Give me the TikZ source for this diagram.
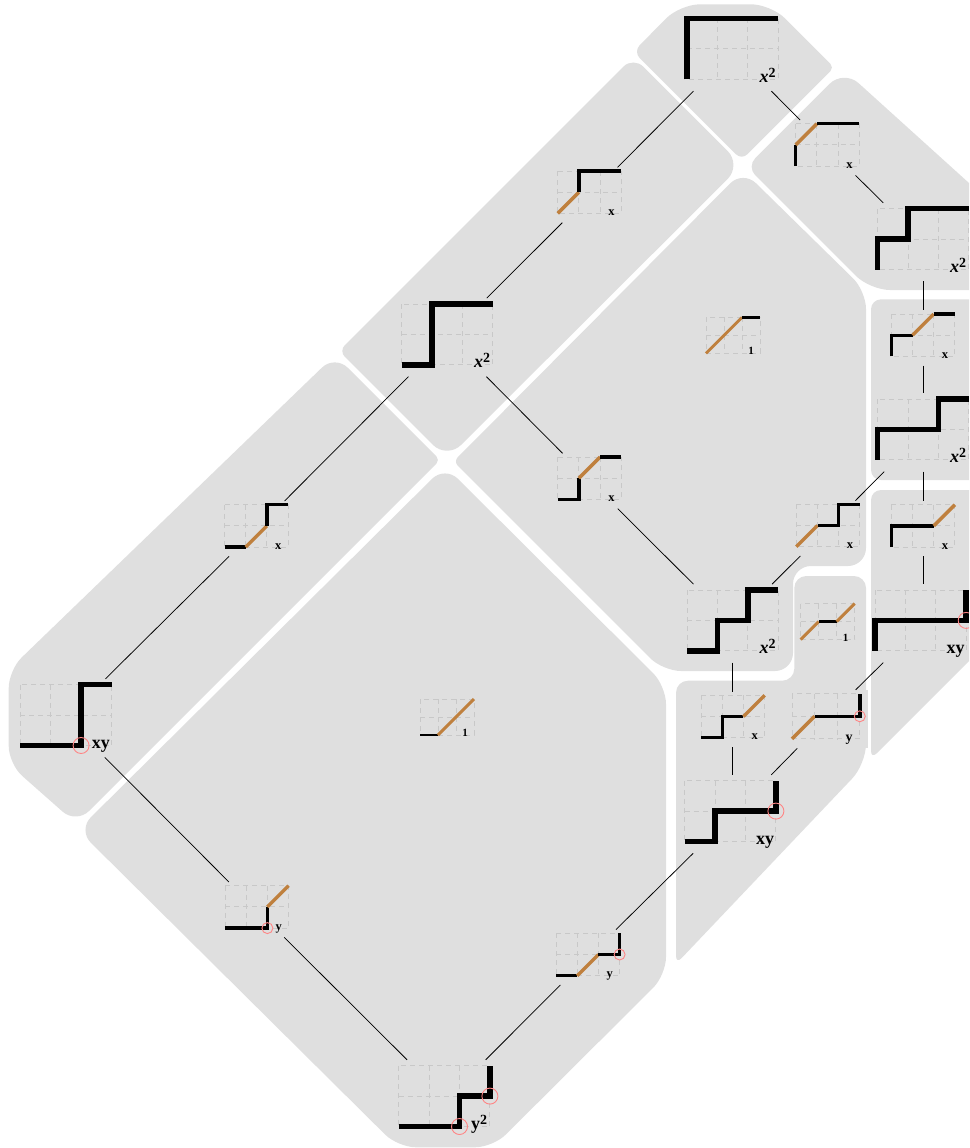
\documentclass[tikz,border=0pt]{standalone}
\usepackage{fontspec}
\setmainfont{Liberation Serif}
\definecolor{regionfill}{HTML}{DFDFDF}
\definecolor{gridgray}{HTML}{C8C8C8}
\definecolor{pathorange}{HTML}{BF803E}
\definecolor{markred}{HTML}{FF8585}
\tikzset{
  region/.style={fill=regionfill,draw=none},
  hit/.style={rectangle,inner sep=0pt,outer sep=0pt,draw=none},
  edgeline/.style={draw=black,line width=0.75pt},
  lat/.style={draw=gridgray,line width=0.9pt,dash pattern=on 5pt off 4pt},
  blk/.style={draw=black,line width=\lw,line join=miter,line cap=butt},
  org/.style={draw=pathorange,line width=\lw,line cap=butt},
  redmark/.style={draw=markred,line width=0.9pt},
  lbl/.style={anchor=base,inner sep=0pt,outer sep=0pt,text=black},
}
\newcommand\bigkind{\def\cell{30.4}\def\lw{5.5pt}\def\off{3}\def\boxh{78.5}\def\lblx{80.5}\def\lbly{2.7}\def\rr{8pt}\def\lblfont{\fontsize{18}{20}\selectfont\bfseries}}
\newcommand\smallkind{\def\cell{21.2}\def\lw{3.4pt}\def\off{2.8}\def\boxh{55.4}\def\lblx{53.8}\def\lbly{2.2}\def\rr{5.5pt}\def\lblfont{\fontsize{12.5}{14}\selectfont\bfseries}}
\newcommand\midkind{\def\cell{22.6}\def\lw{3.6pt}\def\off{2.8}\def\boxh{58.6}\def\lblx{57}\def\lbly{2.7}\def\rr{5.5pt}\def\lblfont{\fontsize{14}{16}\selectfont\bfseries}}
\newcommand\tinykind{\def\cell{18}\def\lw{2.9pt}\def\off{2.4}\def\boxh{47}\def\lblx{45}\def\lbly{1.6}\def\rr{5pt}\def\lblfont{\fontsize{11}{12}\selectfont\bfseries}}
% name, left, top, box centre x, kind, label, drawing
\newcommand\dia[7]{%
  #5%
  \pgfmathsetmacro\bcy{#3+\cell+\off}%
  \pgfmathsetmacro\bw{3*\cell}%
  \pgfmathsetmacro\lx{#2+\lblx}%
  \pgfmathsetmacro\ly{#3+2*\cell+\lbly}%
  \node[hit,minimum width=\bw pt,minimum height=\boxh pt] (#1) at (#4,\bcy) {};
  \begin{scope}[shift={(#2,#3)},x=\cell pt,y=-\cell pt]
    \draw[lat] (0,0) rectangle (3,2) (1,0) -- (1,2) (2,0) -- (2,2) (0,1) -- (3,1);
    #7
  \end{scope}
  \node[lbl] (#1-label) at (\lx,\ly) {\lblfont #6};
}
\newcommand\rc[1]{\draw[redmark] #1 circle[radius=\rr];}
\newcommand\supr[1]{\raisebox{5pt}{\fontsize{14}{14}\selectfont #1}}
\newcommand\xsq{\textit{x}\supr{2}}
\begin{document}
\begin{tikzpicture}[x=1pt,y=-1pt]
\useasboundingbox (0,0) rectangle (969,1148);
\clip (0,0) rectangle (969,1148);
% regions
\fill[region,rounded corners=20pt] (633.3,51.7) -- (680,4.3) -- (771,4.3) [rounded corners=5pt] -- (834,67.5) [rounded corners=8pt] -- (741.7,160) [rounded corners=9pt] -- cycle;
\fill[region,rounded corners=20pt] (746.7,166.7) -- (843.7,69.7) -- (990,202) -- (990,290) -- (870,290) [rounded corners=12pt] -- cycle;
\fill[region,rounded corners=14pt] (339,351) -- (633.3,56.7) [rounded corners=20pt] -- (741.7,165) -- (447,459) [rounded corners=8pt] -- cycle;
\fill[region,rounded corners=18pt] (453.5,461.5) -- (743,170.5) -- (866,291) -- (866,566) -- (793,566) -- (793,671) -- (663,671) [rounded corners=6pt] -- cycle;
\fill[region,rounded corners=10pt] (871,299.3) rectangle (990,480);
\fill[region,rounded corners=10pt] (871,490) -- (990,490) -- (990,640) [rounded corners=8pt] -- (871,759) [rounded corners=10pt] -- cycle;
\fill[region,rounded corners=12pt] (676,680.7) -- (794.3,680.7) -- (794.3,576) -- (866,576) [rounded corners=20pt] -- (866,764) [rounded corners=8pt] -- (676,964) [rounded corners=12pt] -- cycle;
\fill[region] (790,690) rectangle (868.3,748.3);
\fill[region,rounded corners=18pt] (8.7,670) -- (335,355) [rounded corners=5pt] -- (440,460) [rounded corners=18pt] -- (76.3,823.7) -- (8.7,764) -- cycle;
\fill[region,rounded corners=18pt] (78,830) -- (445,466) -- (666,686) -- (666,975) -- (493,1147.3) -- (398,1147.3) -- cycle;
% lattice diagrams
\dia{A}{687}{18.5}{732.5}{\bigkind}{\xsq}{\draw[blk] (0,2) -- (0,0) -- (3,0);}
\dia{B}{877.7}{208.7}{923}{\bigkind}{\xsq}{\draw[blk] (0,2) -- (0,1) -- (1,1) -- (1,0) -- (3,0);}
\dia{C}{877.7}{399}{923}{\bigkind}{\xsq}{\draw[blk] (0,2) -- (0,1) -- (2,1) -- (2,0) -- (3,0);}
\dia{D}{875}{590}{923}{\bigkind}{xy}{\draw[blk] (0,2) -- (0,1) -- (3,1) -- (3,0); \rc{(3,1)}}
\dia{E}{687}{590}{732.8}{\bigkind}{\xsq}{\draw[blk] (0,2) -- (1,2) -- (1,1) -- (2,1) -- (2,0) -- (3,0);}
\dia{F}{684.7}{780.7}{732.8}{\bigkind}{xy}{\draw[blk] (0,2) -- (1,2) -- (1,1) -- (3,1) -- (3,0); \rc{(3,1)}}
\dia{G}{398.7}{1065.7}{446.5}{\bigkind}{y\supr{2}}{\draw[blk] (0,2) -- (2,2) -- (2,1) -- (3,1) -- (3,0); \rc{(2,2)} \rc{(3,1)}}
\dia{H}{20.3}{684.7}{65.8}{\bigkind}{xy}{\draw[blk] (0,2) -- (2,2) -- (2,0) -- (3,0); \rc{(2,2)}}
\dia{I}{401.7}{304}{447.5}{\bigkind}{\xsq}{\draw[blk] (0,2) -- (1,2) -- (1,0) -- (3,0);}
\dia{sa}{795.7}{123.7}{827.5}{\smallkind}{x}{\draw[blk] (0,2) -- (0,1); \draw[org] (0,1) -- (1,0); \draw[blk] (1,0) -- (3,0);}
\dia{sb}{557.7}{171}{590}{\smallkind}{x}{\draw[org] (0,2) -- (1,1); \draw[blk] (1,1) -- (1,0) -- (3,0);}
\dia{sc}{557.7}{457}{590}{\smallkind}{x}{\draw[blk] (0,2) -- (1,2) -- (1,1); \draw[org] (1,1) -- (2,0); \draw[blk] (2,0) -- (3,0);}
\dia{sd}{224.5}{504.7}{257}{\smallkind}{x}{\draw[blk] (0,2) -- (1,2); \draw[org] (1,2) -- (2,1); \draw[blk] (2,1) -- (2,0) -- (3,0);}
\dia{se}{225}{885.7}{256.5}{\smallkind}{y}{\draw[blk] (0,2) -- (2,2) -- (2,1); \draw[org] (2,1) -- (3,0); \rc{(2,2)}}
\dia{sf}{556}{933.3}{588}{\smallkind}{y}{\draw[blk] (0,2) -- (1,2); \draw[org] (1,2) -- (2,1); \draw[blk] (2,1) -- (3,1) -- (3,0); \rc{(3,1)}}
\dia{sg}{891.3}{314}{923}{\smallkind}{x}{\draw[blk] (0,2) -- (0,1) -- (1,1); \draw[org] (1,1) -- (2,0); \draw[blk] (2,0) -- (3,0);}
\dia{sh}{891.3}{504.7}{923}{\smallkind}{x}{\draw[blk] (0,2) -- (0,1) -- (2,1); \draw[org] (2,1) -- (3,0);}
\dia{si}{796.3}{504.3}{828}{\smallkind}{x}{\draw[org] (0,2) -- (1,1); \draw[blk] (1,1) -- (2,1) -- (2,0) -- (3,0);}
\dia{sj}{701}{695.3}{732.8}{\smallkind}{x}{\draw[blk] (0,2) -- (1,2) -- (1,1) -- (2,1); \draw[org] (2,1) -- (3,0);}
\dia{sk}{792}{693.7}{826}{\midkind}{y}{\draw[org] (0,2) -- (1,1); \draw[blk] (1,1) -- (3,1) -- (3,0); \rc{(3,1)}}
\dia{ta}{706}{317.3}{733}{\tinykind}{1}{\draw[org] (0,2) -- (2,0); \draw[blk] (2,0) -- (3,0);}
\dia{tb}{420}{699}{447}{\tinykind}{1}{\draw[blk] (0,2) -- (1,2); \draw[org] (1,2) -- (3,0);}
\dia{tc}{800.7}{603.5}{828}{\tinykind}{1}{\draw[org] (0,2) -- (1,1); \draw[blk] (1,1) -- (2,1); \draw[org] (2,1) -- (3,0);}
% connectors
\draw[edgeline] (A) -- (sb);
\draw[edgeline] (A) -- (sa);
\draw[edgeline] (sa) -- (B);
\draw[edgeline] (B) -- (sg);
\draw[edgeline] (sg) -- (C);
\draw[edgeline] (C) -- (sh);
\draw[edgeline] (C) -- (si);
\draw[edgeline] (sh) -- (D);
\draw[edgeline] (si) -- (E);
\draw[edgeline] (sc) -- (E);
\draw[edgeline] (I) -- (sc);
\draw[edgeline] (sb) -- (I);
\draw[edgeline] (I) -- (sd);
\draw[edgeline] (sd) -- (H);
\draw[edgeline] (H) -- (se);
\draw[edgeline] (se) -- (G);
\draw[edgeline] (sf) -- (G);
\draw[edgeline] (F) -- (sf);
\draw[edgeline] (E) -- (sj);
\draw[edgeline] (sj) -- (F);
\draw[edgeline] (sk) -- (F);
\draw[edgeline] (D) -- (sk);
\end{tikzpicture}
\end{document}
